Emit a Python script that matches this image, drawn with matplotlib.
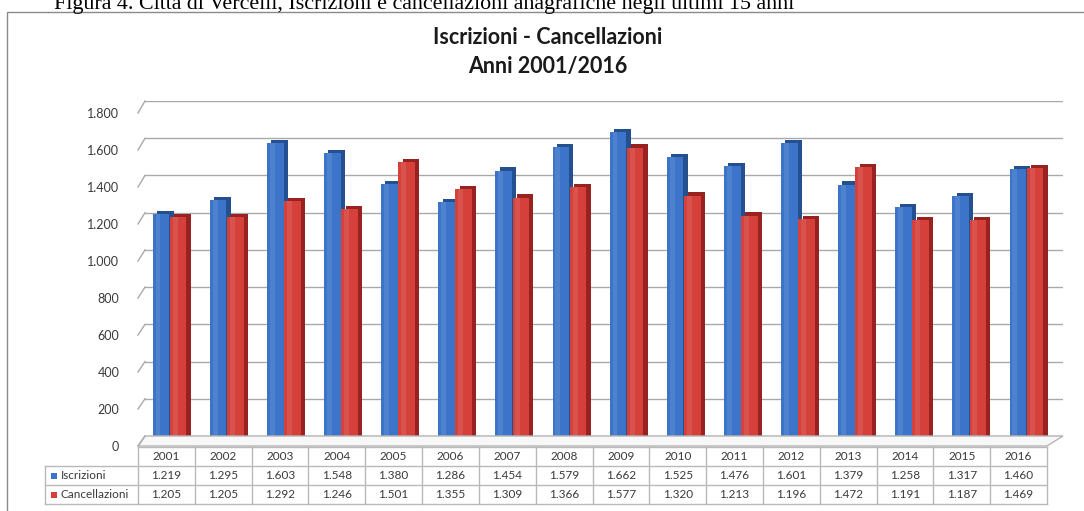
import matplotlib
matplotlib.use("Agg")
import matplotlib.pyplot as plt
from matplotlib.patches import Rectangle, Polygon
from matplotlib.lines import Line2D
from matplotlib.transforms import IdentityTransform
import numpy as np

# ---------------- data ----------------
years = ["2001", "2002", "2003", "2004", "2005", "2006", "2007", "2008",
         "2009", "2010", "2011", "2012", "2013", "2014", "2015", "2016"]
iscrizioni = [1219, 1295, 1603, 1548, 1380, 1286, 1454, 1579,
              1662, 1525, 1476, 1601, 1379, 1258, 1317, 1460]
cancellazioni = [1205, 1205, 1292, 1246, 1501, 1355, 1309, 1366,
                 1577, 1320, 1213, 1196, 1472, 1191, 1187, 1469]
series_names = ["Iscrizioni", "Cancellazioni"]
y_ticks = [0, 200, 400, 600, 800, 1000, 1200, 1400, 1600, 1800]

title_line1 = "Iscrizioni - Cancellazioni"
title_line2 = "Anni 2001/2016"
caption = "Figura 4. Città di Vercelli, Iscrizioni e cancellazioni anagrafiche negli ultimi 15 anni"

# ---------------- style ----------------
W, H = 1084, 511
BLUE, BLUE_D = "#3c74c9", "#24508f"
RED, RED_D = "#d5403b", "#98221f"
GRID = "#a9a9a9"
TXT = "#3a3a3a"
FONT = "Lato"

fig = plt.figure(figsize=(W / 100, H / 100), dpi=100)
fig.patch.set_facecolor("white")


def add_ax(l, t, r, b, **kw):
    return fig.add_axes([l / W, 1 - b / H, (r - l) / W, (b - t) / H], **kw)


def fx(x):
    return x / W


def fy(y):
    return 1 - y / H


n = len(years)
idx = np.arange(n)
ymax = y_ticks[-1]

# caption (partially cut at the top as in the source)
fig.text(fx(54), fy(9.0), caption, family="Liberation Serif", fontsize=15.8,
         va="baseline", ha="left", color="black")

# chart border
fig.patches.append(Rectangle((fx(7), fy(530)), fx(1100) - fx(7), fy(12) - fy(530),
                             transform=fig.transFigure, fill=False,
                             edgecolor="#8a8a8a", lw=1.0, clip_on=False))

# title
fig.text(fx(548), fy(38), title_line1, family=FONT, fontweight="bold", fontsize=15.5,
         ha="center", va="center", color="#1a1a1a")
fig.text(fx(548), fy(66), title_line2, family=FONT, fontweight="bold", fontsize=15.5,
         ha="center", va="center", color="#1a1a1a")

# ---------------- back wall (grid) ----------------
back = add_ax(145, 101, 1063, 436)
back.set_xlim(0, 1)
back.set_ylim(0, ymax)
back.set_yticks(y_ticks)
back.grid(axis="y", color=GRID, lw=1.0)
back.set_xticks([])
back.tick_params(left=False, labelleft=False)
for s in back.spines.values():
    s.set_visible(False)
back.patch.set_alpha(0)

# ---------------- front axis (labels) ----------------
front = add_ax(138, 113, 1047, 446)
front.set_xlim(-0.5, n - 0.5)
front.set_ylim(0, ymax)
front.set_yticks(y_ticks)
front.set_yticklabels([f"{v:,}".replace(",", ".") for v in y_ticks],
                      family=FONT, fontsize=9, color=TXT)
front.tick_params(left=False, pad=10)
front.set_xticks([])
for s in front.spines.values():
    s.set_visible(False)
front.patch.set_alpha(0)

# left-wall connectors and floor outline
fig.canvas.draw()
for v in y_ticks:
    p0 = front.transData.transform((-0.5, v))
    p1 = back.transData.transform((0, v))
    fig.lines.append(Line2D([p0[0], p1[0]], [p0[1], p1[1]], color=GRID, lw=1.0,
                            transform=IdentityTransform()))
f_l = front.transData.transform((-0.5, 0))
f_r = front.transData.transform((n - 0.5, 0))
b_l = back.transData.transform((0, 0))
b_r = back.transData.transform((1, 0))
fig.patches.append(Polygon([f_l, f_r, b_r, b_l], closed=True, facecolor="#f7f7f7",
                           edgecolor="#b5b5b5", lw=1.0, transform=IdentityTransform(),
                           zorder=0.5))

# ---------------- bars ----------------
bars = add_ax(141, 106, 1055, 442)
bars.set_xlim(-0.5, n - 0.5)
bars.set_ylim(0, ymax)
bars.axis("off")
bars.patch.set_alpha(0)

bw = 0.29
off = 0.15
ddx = 0.075
ddy = 17
for vals, o, c, cd in [(iscrizioni, -off, BLUE, BLUE_D), (cancellazioni, off, RED, RED_D)]:
    bars.bar(idx + o + ddx, vals, width=bw, bottom=ddy, color=cd, lw=0, zorder=2)
    bars.bar(idx + o, vals, width=bw, color=c, lw=0, zorder=3)
    bars.bar(idx + o - bw * 0.18, vals, width=bw * 0.3, color="white", alpha=0.10,
             lw=0, zorder=4)

# ---------------- data table ----------------
tab = add_ax(138, 447, 1047, 504)
tab.set_xlim(-0.5, n - 0.5)
tab.set_ylim(3, 0)
tab.axis("off")
label_left = -0.5 - (138 - 45) / ((1047 - 138) / n)
LINE = "#b9b9b9"
for i in range(n + 1):
    tab.plot([i - 0.5, i - 0.5], [0, 3], color=LINE, lw=1.0, clip_on=False)
tab.plot([label_left, label_left], [1, 3], color=LINE, lw=1.0, clip_on=False)
tab.plot([-0.5, n - 0.5], [0, 0], color=LINE, lw=1.0, clip_on=False)
for r in (1, 2, 3):
    tab.plot([label_left, n - 0.5], [r, r], color=LINE, lw=1.0, clip_on=False)

for i, yv in enumerate(years):
    tab.text(i, 0.52, yv, ha="center", va="center", family=FONT, fontsize=8.5, color=TXT)
for r, (vals, c) in enumerate([(iscrizioni, BLUE), (cancellazioni, RED)], start=1):
    for i, v in enumerate(vals):
        tab.text(i, r + 0.52, f"{v:,}".replace(",", "."), ha="center", va="center",
                 family=FONT, fontsize=8.5, color=TXT)
    tab.scatter([label_left + 0.16], [r + 0.5], marker="s", s=24, color=c,
                clip_on=False, lw=0)
    tab.text(label_left + 0.28, r + 0.52, series_names[r - 1], ha="left", va="center",
             family=FONT, fontsize=8.5, color=TXT, clip_on=False)

fig.savefig("out.png", dpi=100, facecolor="white")
